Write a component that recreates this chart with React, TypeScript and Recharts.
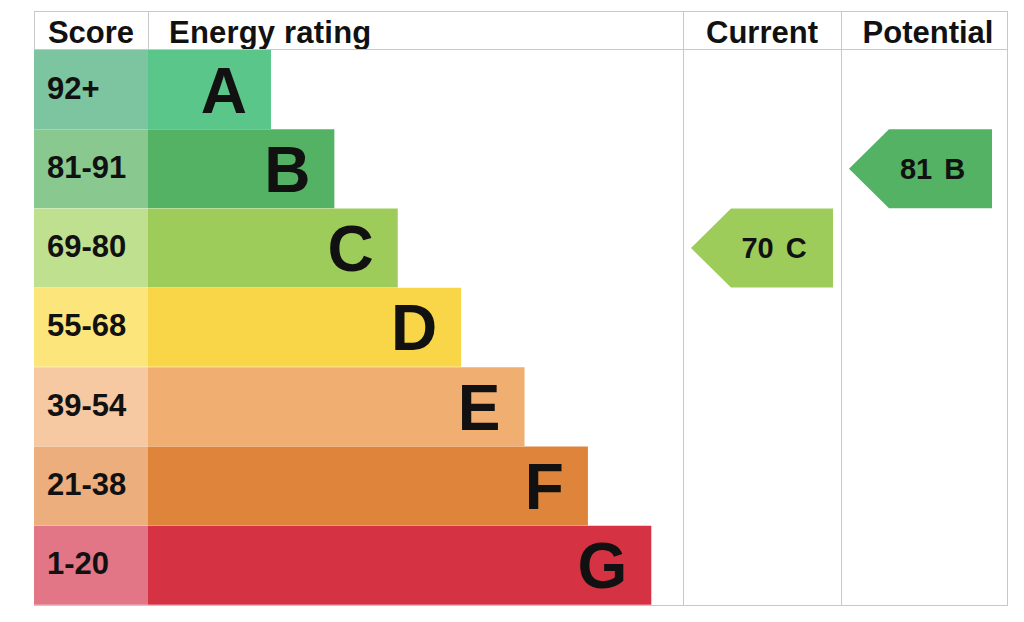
import React from "react";
import { BarChart, Bar, XAxis, YAxis, Cell, LabelList } from "recharts";

const bands = ["A", "B", "C", "D", "E", "F", "G"];
const scoreRanges = ["92+", "81-91", "69-80", "55-68", "39-54", "21-38", "1-20"];
const bandMin = [92, 81, 69, 55, 39, 21, 1];
const barLength = [2, 3, 4, 5, 6, 7, 8];
const scoreColors = ["#7dc4a0", "#89c98f", "#bfe08e", "#fce57a", "#f6c9a2", "#ebae7c", "#e27586"];
const barColors = ["#5bc68a", "#53b263", "#9dcc5b", "#f9d648", "#f0ae71", "#df843b", "#d53343"];
const currentScore = 70;
const potentialScore = 81;

const FONT = '"Liberation Sans", Arial, Helvetica, sans-serif';
const INK = "#111111";
const LINE = "#c8c8c8";
const TOP = 50;
const BODY_H = 555;

const rows = bands.map((band, i) => ({
  band,
  range: scoreRanges[i],
  length: barLength[i],
  cell: 1,
}));

const bandOf = (score: number) => bands[bandMin.findIndex((m) => score >= m)];

function ScoreLabel(props: any) {
  const { x, y, height, value } = props;
  return (
    <text x={x + 13} y={y + height / 2 + 9} fill={INK} fontSize={31} fontWeight="bold" fontFamily={FONT}>
      {value}
    </text>
  );
}

function LetterLabel(props: any) {
  const { x, y, width, height, value } = props;
  return (
    <text
      x={x + width - 24}
      y={y + height / 2 + 23}
      textAnchor="end"
      fill={INK}
      fontSize={64}
      fontWeight="bold"
      fontFamily={FONT}
    >
      {value}
    </text>
  );
}

function arrowShape(score: number) {
  return (props: any) => {
    const { x, y, width, height, fill } = props;
    if (!width || width <= 0) return null;
    const notch = 40;
    const mid = y + height / 2;
    const pts = `${x},${mid} ${x + notch},${y} ${x + width},${y} ${x + width},${y + height} ${x + notch},${y + height}`;
    const cx = (x + notch + x + width) / 2 - 8;
    return (
      <g>
        <polygon points={pts} fill={fill} />
        <text x={cx} y={mid + 10} textAnchor="middle" fill={INK} fontSize={29} fontWeight="bold" fontFamily={FONT}>
          {score}
          <tspan dx={12}>{bandOf(score)}</tspan>
        </text>
      </g>
    );
  };
}

function ArrowColumn({ score, left, width, right }: { score: number; left: number; width: number; right: number }) {
  const band = bandOf(score);
  return (
    <div style={{ position: "absolute", left, top: TOP }}>
      <BarChart
        width={width}
        height={BODY_H}
        data={rows}
        layout="vertical"
        margin={{ top: 0, bottom: 0, left: 8, right }}
        barCategoryGap={0}
      >
        <XAxis type="number" domain={[0, 1]} hide />
        <YAxis type="category" dataKey="band" hide />
        <Bar
          dataKey={(d: any) => (d.band === band ? 1 : null)}
          shape={arrowShape(score)}
          isAnimationActive={false}
        >
          {rows.map((r, i) => (
            <Cell key={r.band} fill={barColors[i]} />
          ))}
        </Bar>
      </BarChart>
    </div>
  );
}

const hLine = (top: number) => (
  <div style={{ position: "absolute", left: 34, top, width: 974, height: 1, background: LINE }} />
);
const vLine = (left: number, bottom: number) => (
  <div style={{ position: "absolute", left, top: 11, width: 1, height: bottom - 11, background: LINE }} />
);

const headStyle: React.CSSProperties = {
  position: "absolute",
  top: 12,
  height: 38,
  display: "flex",
  alignItems: "center",
  justifyContent: "center",
  fontSize: 31,
  lineHeight: "31px",
  fontWeight: "bold",
  color: INK,
  paddingTop: 2,
  boxSizing: "border-box",
};

export default function App() {
  return (
    <div style={{ position: "absolute", left: 0, top: 0, width: 1024, height: 622, background: "#fff", fontFamily: FONT }}>
      <div style={{ ...headStyle, left: 34, width: 114 }}>Score</div>
      <div style={{ ...headStyle, left: 169, justifyContent: "flex-start", letterSpacing: 0.2 }}>Energy rating</div>
      <div style={{ ...headStyle, left: 683, width: 158 }}>Current</div>
      <div style={{ ...headStyle, left: 845, width: 166 }}>Potential</div>

      <div style={{ position: "absolute", left: 34, top: TOP }}>
        <BarChart width={114} height={BODY_H} data={rows} layout="vertical" margin={{ top: 0, bottom: 0, left: 0, right: 0 }} barCategoryGap={0}>
          <XAxis type="number" domain={[0, 1]} hide />
          <YAxis type="category" dataKey="band" hide />
          <Bar dataKey="cell" isAnimationActive={false}>
            {rows.map((r, i) => (
              <Cell key={r.band} fill={scoreColors[i]} />
            ))}
            <LabelList dataKey="range" content={ScoreLabel} />
          </Bar>
        </BarChart>
      </div>

      <div style={{ position: "absolute", left: 148, top: TOP }}>
        <BarChart width={535} height={BODY_H} data={rows} layout="vertical" margin={{ top: 0, bottom: 0, left: 0, right: 0 }} barCategoryGap={0}>
          <XAxis type="number" domain={[0.06, 8.5]} allowDataOverflow hide />
          <YAxis type="category" dataKey="band" hide />
          <Bar dataKey="length" isAnimationActive={false}>
            {rows.map((r, i) => (
              <Cell key={r.band} fill={barColors[i]} />
            ))}
            <LabelList dataKey="band" content={LetterLabel} />
          </Bar>
        </BarChart>
      </div>

      <ArrowColumn score={currentScore} left={683} width={158} right={8} />
      <ArrowColumn score={potentialScore} left={841} width={166} right={15} />

      {hLine(11)}
      {hLine(49)}
      {hLine(605)}
      {vLine(34, 50)}
      {vLine(148, 50)}
      {vLine(683, 606)}
      {vLine(841, 606)}
      {vLine(1007, 606)}
    </div>
  );
}
